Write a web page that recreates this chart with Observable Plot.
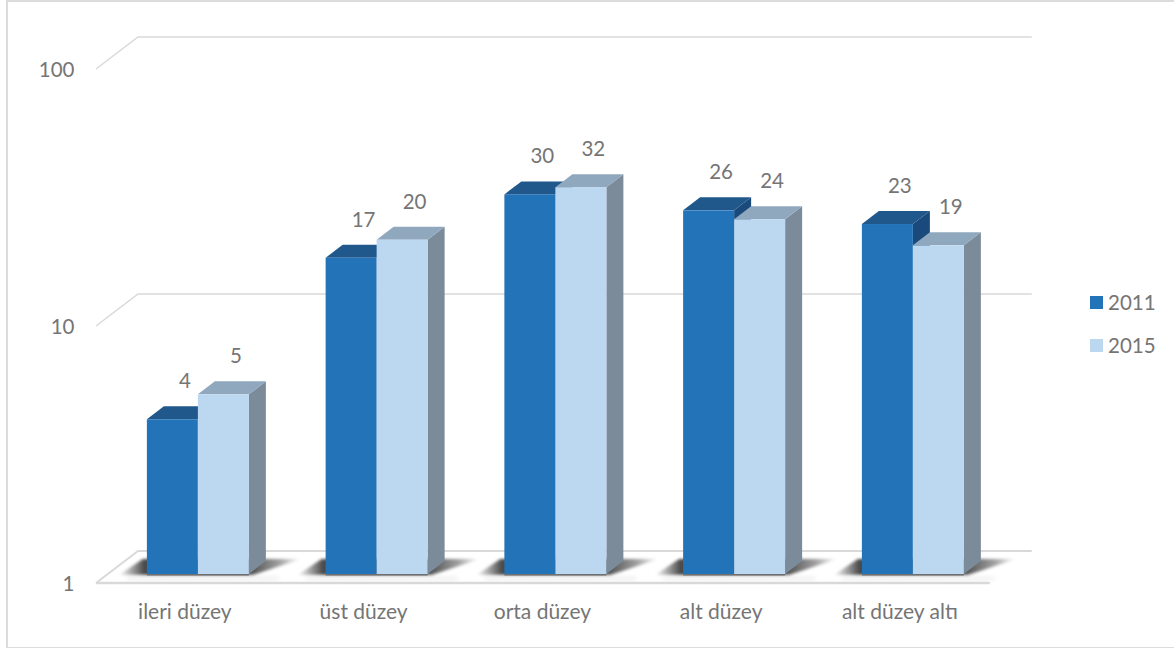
<!DOCTYPE html>
<html lang="tr">
<head>
<meta charset="utf-8">
<script src="https://cdn.jsdelivr.net/npm/d3@7"></script>
<script src="https://cdn.jsdelivr.net/npm/@observablehq/plot@0.6"></script>
<style>
  html, body { margin: 0; padding: 0; background: #fff; width: 1174px; height: 648px; overflow: hidden; }
  #frame { position: absolute; left: 6px; top: 0; width: 1166px; height: 645px; border: 2px solid #dcdcdc; border-right: none; box-sizing: content-box; }
  #chart { position: absolute; left: 0; top: 0; }
  #legend { position: absolute; left: 1090px; top: 290px; font: 20.5px Lato, sans-serif; color: #757575; }
  #legend div { position: absolute; left: 0; white-space: nowrap; height: 24px; line-height: 24px; }
  #legend i { position: absolute; left: 0; top: 6px; width: 13px; height: 13px; }
  #legend span { position: absolute; left: 18px; top: 0; }
</style>
</head>
<body>
<div id="frame"></div>
<div id="chart"></div>
<div id="legend"></div>
<script>
const categories = ["ileri düzey", "üst düzey", "orta düzey", "alt düzey", "alt düzey altı"];
const series2011 = [4, 17, 30, 26, 23];
const series2015 = [5, 20, 32, 24, 19];
const yTicks = [1, 10, 100];
const seriesNames = ["2011", "2015"];
const frontColors = ["#2373b8", "#bcd7f0"];
const topColors = ["#20588c", "#8fa8bd"];
const sideColors = ["#1a4a7c", "#7c8b9a"];

const textColor = "#757575", gridColor = "#d9d9d9";
const barShare = 51 / 178.75;
const barDx = 12.5, barDy = -9, depthX = 17, depthY = -13, wallX = 42, wallY = -32;

const poly = (g, pts, attrs) => {
  const p = g.append("polygon").attr("points", pts.map(d => d.join(",")).join(" "));
  for (const k in attrs) p.attr(k, attrs[k]);
  return p;
};

function barRows(values, s) {
  return values.map((v, i) => ({
    i, v, name: seriesNames[s],
    x1: i + 0.5 + (s - 1) * barShare,
    x2: i + 0.5 + s * barShare
  }));
}

function barMark(values, s) {
  const rows = barRows(values, s);
  return Plot.rect(rows, {
    x1: "x1", x2: "x2", y1: () => 1, y2: "v",
    fill: frontColors[s], dx: barDx, dy: barDy, inset: 0,
    render(index, scales, vals, dims, ctx, next) {
      const node = next(index, scales, vals, dims, ctx);
      const g = d3.create("svg:g");
      const {x, y} = scales;
      for (const r of rows) {
        const a = x(r.x1) + barDx, b = x(r.x2) + barDx;
        const top = y(r.v) + barDy, base = y(1) + barDy;
        poly(g, [[b, top], [b + depthX, top + depthY], [b + depthX, base + depthY], [b, base]], {fill: sideColors[s]});
        poly(g, [[a, top], [a + depthX, top + depthY], [b + depthX, top + depthY], [b, top]], {fill: topColors[s]});
      }
      g.node().appendChild(node);
      return g.node();
    }
  });
}

// Chart walls, floor and drop shadows, laid out from the scales.
const wallMark = Plot.ruleY(yTicks, {
  y: d => d, x1: () => 0, x2: () => categories.length,
  stroke: "none",
  render(index, {x, y}) {
    const g = d3.create("svg:g").attr("fill", "none").attr("stroke", gridColor);
    for (const t of yTicks) {
      const y0 = y(t), x0 = x(0), xb = x(categories.length);
      g.append("path")
        .attr("stroke-width", t === 1 ? 2 : 1.5)
        .attr("d", `M${x0},${y0}L${x0 + wallX},${y0 + wallY}L${xb + wallX},${y0 + wallY}`);
    }
    g.append("path").attr("stroke-width", 2.5)
      .attr("d", `M${x(0)},${y(1)}L${x(categories.length)},${y(1)}`);
    return g.node();
  }
});

const shadowMark = Plot.ruleY([1], {
  y: d => d, stroke: "none",
  render(index, {x, y}) {
    const g = d3.create("svg:g");
    const defs = g.append("defs");
    const grad = defs.append("linearGradient").attr("id", "shadowFade");
    [[0, 0], [0.14, 0.85], [0.68, 0.92], [0.88, 0.45], [1, 0]].forEach(([o, a]) =>
      grad.append("stop").attr("offset", o).attr("stop-color", "#2a2a2a").attr("stop-opacity", a));
    const base = y(1) + barDy;
    categories.forEach((c, i) => {
      const a = x(i + 0.5 - barShare) + barDx, b = x(i + 0.5 + barShare) + barDx;
      poly(g, [[a - 28, base + 1], [b + 4, base + 1], [b + 52, base + depthY - 2], [a - 4, base + depthY - 2]],
        {fill: "url(#shadowFade)", style: "filter: blur(1.5px)"});
      g.append("rect").attr("x", a - 20).attr("y", base + 3).attr("width", b - a + 50).attr("height", 3)
        .attr("fill", "#cfcfcf").attr("opacity", 0.4).attr("style", "filter: blur(2px)");
      g.append("rect").attr("x", a).attr("y", base - 1).attr("width", b - a).attr("height", 2.5).attr("fill", "#707070");
    });
    return g.node();
  }
});

const labelRows = [...barRows(series2011, 0), ...barRows(series2015, 1)];

const chart = Plot.plot({
  width: 1174, height: 648,
  marginLeft: 96, marginRight: 184.25, marginTop: 69, marginBottom: 65,
  style: {fontFamily: "Lato, sans-serif", background: "transparent", overflow: "visible"},
  x: {type: "linear", domain: [0, categories.length]},
  y: {type: "log", domain: [1, 100]},
  marks: [
    wallMark,
    shadowMark,
    barMark(series2011, 0),
    barMark(series2015, 1),
    Plot.text(labelRows, {
      x: d => (d.x1 + d.x2) / 2, y: "v", text: d => String(d.v),
      dx: barDx + 12, dy: barDy - 29 - 9, fontSize: 20.5, fill: textColor
    }),
    Plot.axisY({
      ticks: yTicks, tickSize: 0, tickPadding: 22, label: null, dy: 1,
      tickFormat: d => String(d), fontSize: 20.5, fill: textColor
    }),
    Plot.axisX({
      ticks: categories.map((c, i) => i + 0.5), tickSize: 0, tickPadding: 21, label: null,
      tickFormat: d => categories[Math.floor(d)], fontSize: 21, fill: textColor, dx: -1
    })
  ]
});
document.getElementById("chart").appendChild(chart);

const legend = d3.select("#legend");
seriesNames.forEach((n, i) => {
  const row = legend.append("div").style("top", `${i * 43}px`);
  row.append("i").style("background", frontColors[i]);
  row.append("span").text(n);
});
</script>
</body>
</html>
